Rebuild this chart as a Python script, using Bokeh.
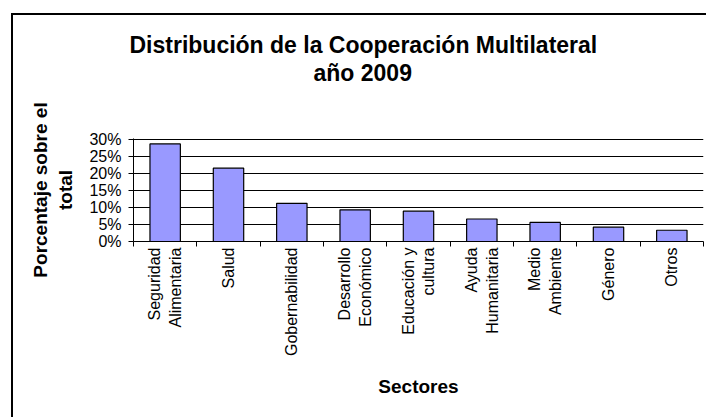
import math
from bokeh.plotting import figure
from bokeh.models import (Range1d, FixedTicker, NumeralTickFormatter, Title, LinearAxis,
                          ColumnDataSource)
from bokeh.embed import file_html
from bokeh.resources import INLINE

# ---- data ----
sectores = ["Seguridad Alimentaria", "Salud", "Gobernabilidad", "Desarrollo Económico",
            "Educación y cultura", "Ayuda Humanitaria", "Medio Ambiente", "Género", "Otros"]
etiquetas = ["Seguridad\nAlimentaria", "Salud", "Gobernabilidad", "Desarrollo\nEconómico",
             "Educación y\ncultura", "Ayuda\nHumanitaria", "Medio\nAmbiente", "Género", "Otros"]
porcentajes = [0.286, 0.215, 0.112, 0.093, 0.089, 0.066, 0.056, 0.042, 0.033]
y_ticks = [0.0, 0.05, 0.10, 0.15, 0.20, 0.25, 0.30]

titulo_1 = "Distribución de la Cooperación Multilateral"
titulo_2 = "año 2009"
eje_y = "Porcentaje sobre el\ntotal"
eje_x = "Sectores"

FONT = "Liberation Sans"

n = len(sectores)
centros = [i + 0.5 for i in range(n)]
bordes = [float(i) for i in range(n + 1)]

src = ColumnDataSource(dict(x=centros, top=porcentajes, sector=sectores))

# canvas placed at (13, 15) inside the page, after a 2px left/top chart border
p = figure(width=695, height=404, output_backend="svg", toolbar_location=None,
           x_range=Range1d(0, n), y_range=Range1d(0, 0.302),
           x_axis_type=None, title=None,
           min_border_left=120, min_border_right=5, min_border_top=123,
           min_border_bottom=178)
p.styles = {"border-left": "2px solid black", "border-top": "2px solid black",
            "margin-left": "11px", "margin-top": "13px"}
p.outline_line_color = None
p.background_fill_color = "white"
p.border_fill_color = "white"

p.vbar(x="x", top="top", width=0.48, bottom=0, source=src,
       fill_color="#9999FF", line_color="black", line_width=1.2)

# y axis
p.yaxis.ticker = FixedTicker(ticks=y_ticks)
p.yaxis.formatter = NumeralTickFormatter(format="0%")
p.yaxis.major_tick_out = 5
p.yaxis.major_tick_in = 0
p.yaxis.minor_tick_line_color = None
p.yaxis.major_label_standoff = 7
p.yaxis.major_label_text_font = FONT
p.yaxis.major_label_text_font_size = "16px"
p.yaxis.major_label_text_color = "black"
p.yaxis.axis_line_color = "black"
p.yaxis.major_tick_line_color = "black"
p.yaxis.axis_label = eje_y
p.yaxis.axis_label_text_font = FONT
p.yaxis.axis_label_text_font_size = "19px"
p.yaxis.axis_label_text_font_style = "bold"
p.yaxis.axis_label_text_color = "black"
p.yaxis.axis_label_text_align = "center"
p.yaxis.axis_label_standoff = 10

p.ygrid.ticker = FixedTicker(ticks=y_ticks)
p.ygrid.grid_line_color = "black"
p.ygrid.grid_line_width = 1
p.xgrid.grid_line_color = None

# x axis 1 (inner): tick marks at category boundaries, no labels drawn
tick_axis = LinearAxis(ticker=FixedTicker(ticks=bordes), axis_line_color="black",
                       major_tick_line_color="black", major_tick_out=5, major_tick_in=0,
                       minor_tick_line_color=None, major_label_text_font_size="1px",
                       major_label_text_color=None, major_label_standoff=0)
p.add_layout(tick_axis, "below")

# x axis 2 (outer): category labels at centres
label_axis = LinearAxis(ticker=FixedTicker(ticks=centros), axis_line_color=None,
                        major_tick_line_color=None, minor_tick_line_color=None,
                        major_tick_out=0, major_tick_in=0, major_label_standoff=1,
                        major_label_orientation=math.pi / 2,
                        major_label_overrides={c: e for c, e in zip(centros, etiquetas)},
                        major_label_text_font=FONT, major_label_text_font_size="16px",
                        major_label_text_color="black",
                        axis_label=eje_x, axis_label_text_font=FONT,
                        axis_label_text_font_size="19px", axis_label_text_font_style="bold",
                        axis_label_text_color="black", axis_label_standoff=17)
p.add_layout(label_axis, "below")

# titles: spacer (innermost), second line, first line
FRAME_LEFT = 133
spacer = Title(text=" ", text_font_size="1px", standoff=50)
t2 = Title(text=titulo_2, align="left", offset=313 - FRAME_LEFT, standoff=0,
           text_font=FONT, text_font_size="23px", text_font_style="bold", text_color="black")
t1 = Title(text=titulo_1, align="left", offset=129 - FRAME_LEFT, standoff=0,
           text_font=FONT, text_font_size="23px", text_font_style="bold", text_color="black")
p.add_layout(spacer, "above")
p.add_layout(t2, "above")
p.add_layout(t1, "above")

open("out.html", "w").write(file_html(p, INLINE))
